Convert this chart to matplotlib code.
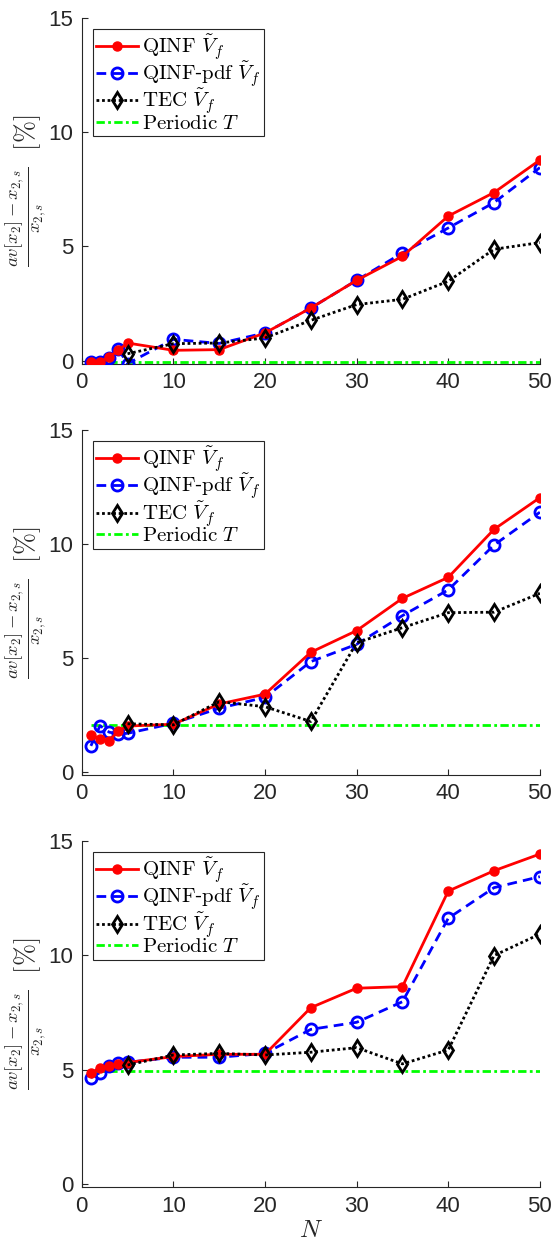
import matplotlib
matplotlib.use("Agg")
import matplotlib.pyplot as plt

plt.rcParams['mathtext.fontset'] = 'cm'
plt.rcParams['font.family'] = ['Liberation Sans', 'DejaVu Sans']

# sample sizes
n_qinf = [1, 2, 3, 4, 5, 10, 15, 20, 25, 30, 35, 40, 45, 50]
n_tec = [5, 10, 15, 20, 25, 30, 35, 40, 45, 50]
n_per = [1, 50]

# panel 1
qinf_1 = [-0.06, -0.06, 0.16, 0.45, 0.77, 0.45, 0.48, 1.21, 2.30, 3.51, 4.56, 6.32, 7.35, 8.77]
pdf_1 = [-0.06, -0.06, 0.10, 0.49, -0.13, 0.93, 0.75, 1.21, 2.30, 3.51, 4.71, 5.80, 6.91, 8.44]
tec_1 = [0.30, 0.74, 0.77, 0.99, 1.76, 2.45, 2.68, 3.47, 4.87, 5.16]
per_1 = -0.05

# panel 2
qinf_2 = [1.62, 1.42, 1.35, 1.80, 2.00, 2.08, 2.97, 3.40, 5.24, 6.19, 7.61, 8.53, 10.64, 12.03]
pdf_2 = [1.13, 2.02, 1.73, 1.66, 1.68, 2.12, 2.78, 3.26, 4.83, 5.59, 6.85, 7.98, 9.95, 11.39]
tec_2 = [2.10, 2.05, 3.07, 2.85, 2.20, 5.66, 6.32, 6.98, 7.00, 7.83]
per_2 = 2.03

# panel 3
qinf_3 = [4.85, 5.06, 5.17, 5.23, 5.31, 5.57, 5.67, 5.67, 7.71, 8.56, 8.63, 12.81, 13.70, 14.43]
pdf_3 = [4.65, 4.87, 5.16, 5.28, 5.32, 5.54, 5.54, 5.71, 6.76, 7.07, 7.97, 11.62, 12.96, 13.44]
tec_3 = [5.20, 5.64, 5.71, 5.64, 5.76, 5.96, 5.25, 5.86, 9.99, 10.93]
per_3 = 4.95

panels = [(qinf_1, pdf_1, tec_1, per_1),
          (qinf_2, pdf_2, tec_2, per_2),
          (qinf_3, pdf_3, tec_3, per_3)]

labels = [r'$\mathrm{QINF}\ \tilde{V}_f$', r'$\mathrm{QINF}$-$\mathrm{pdf}\ \tilde{V}_f$',
          r'$\mathrm{TEC}\ \tilde{V}_f$', r'$\mathrm{Periodic}\ T$']
ylab = r'$\frac{av[x_2]-x_{2,s}}{x_{2,s}}\ \ [\%]$'

fig = plt.figure(figsize=(5.56, 12.45), dpi=100)
boxes = [[0.147, 0.7076, 0.824, 0.2783],
         [0.147, 0.3775, 0.824, 0.2771],
         [0.147, 0.0463, 0.824, 0.2782]]
axc = (0.15, 0.15, 0.15)

for i, (q, p, t, per) in enumerate(panels):
    ax = fig.add_axes(boxes[i])
    ax.plot(n_qinf, q, '-', color='red', lw=2, marker='o', ms=6.5,
            mfc='red', mec='red', label=labels[0], zorder=4)
    ax.plot(n_qinf, p, color='blue', lw=2, ls=(0, (3.5, 2.2)), marker='o', ms=8,
            mfc='none', mec='blue', mew=2, label=labels[1], zorder=3)
    ax.plot(n_tec, t, color='black', lw=2, ls=(0, (1, 1)), marker='d', ms=8,
            mfc='none', mec='black', mew=2, label=labels[2], zorder=5)
    ax.plot(n_per, [per, per], color=(0, 1, 0), lw=2, ls=(0, (3, 1.2, 1, 1.2)),
            label=labels[3], zorder=2)

    ax.set_xlim(0, 50)
    ax.set_ylim(-0.15, 15)
    ax.set_xticks([0, 10, 20, 30, 40, 50])
    ax.set_yticks([0, 5, 10, 15])
    ax.spines['top'].set_visible(False)
    ax.spines['right'].set_visible(False)
    for s in ['left', 'bottom']:
        ax.spines[s].set_color(axc)
        ax.spines[s].set_linewidth(0.8)
    ax.tick_params(direction='in', length=4, width=0.8, colors=axc,
                   labelsize=16, pad=6)
    ax.set_ylabel(ylab, fontsize=19, color=axc, labelpad=0)
    leg = ax.legend(loc='upper left', fontsize=15, handlelength=2.0,
                    handletextpad=0.2, borderpad=0.15, labelspacing=-0.1,
                    borderaxespad=0.55, fancybox=False, framealpha=1)
    leg.get_frame().set_edgecolor(axc)
    leg.get_frame().set_linewidth(0.8)
    if i == 2:
        ax.set_xlabel(r'$N$', fontsize=18, color=axc, labelpad=1)

fig.savefig('out.png', dpi=100)
